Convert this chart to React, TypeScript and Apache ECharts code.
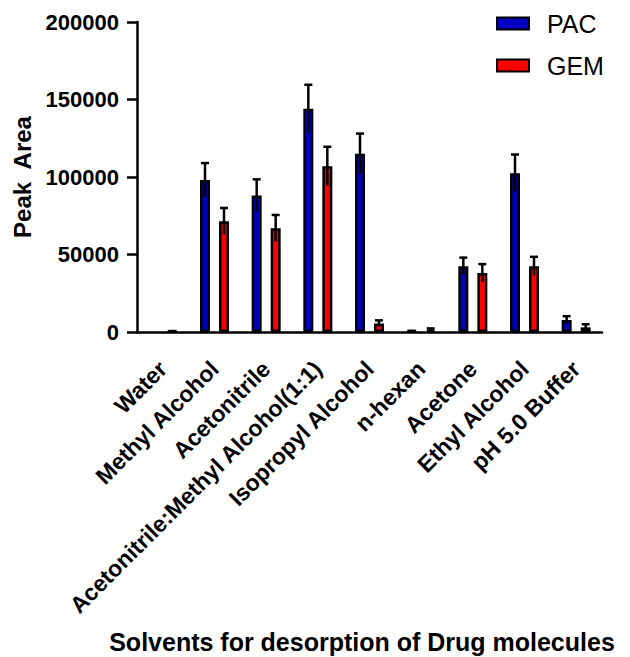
import React, { useEffect, useRef } from "react";
import * as echarts from "echarts";

const categories = [
  "Water",
  "Methyl Alcohol",
  "Acetonitrile",
  "Acetonitrile:Methyl Alcohol(1:1)",
  "Isopropyl Alcohol",
  "n-hexan",
  "Acetone",
  "Ethyl Alcohol",
  "pH 5.0 Buffer",
];
const pacValues = [null, 98000, 88000, 144000, 115000, 500, 42500, 102500, 7700];
const pacErrors = [0, 11000, 10500, 15500, 13000, 300, 5500, 12000, 2500];
const gemValues = [300, 71500, 67000, 107000, 5500, 1500, 38000, 42500, 3000];
const gemErrors = [300, 8500, 8500, 12500, 2000, 800, 5800, 6000, 2000];
const yTicks = [0, 50000, 100000, 150000, 200000];
const xTitle = "Solvents for desorption of Drug molecules";

const FONT = "'Liberation Sans', Arial, sans-serif";
const BLUE = "#0000C0";
const RED = "#FF0000";

function errorSeries(name: string, values: (number | null)[], errors: number[], offset: number) {
  return {
    type: "custom",
    name: name + "-err",
    z: 10,
    silent: true,
    data: values.map((v, i) => [i, v == null ? 0 : v, errors[i]]),
    encode: { x: 0, y: 1 },
    renderItem: (params: any, api: any) => {
      const idx = api.value(0);
      const v = api.value(1);
      const e = api.value(2);
      if (e <= 0) return null;
      const top = api.coord([idx, v + e]);
      const bot = api.coord([idx, Math.max(0, v - e)]);
      const x = top[0] + offset;
      return {
        type: "group",
        children: [
          {
            type: "line",
            shape: { x1: x, y1: bot[1], x2: x, y2: top[1] },
            style: { stroke: "#000", lineWidth: 2.5 },
          },
          {
            type: "line",
            shape: { x1: x - 4, y1: top[1], x2: x + 4, y2: top[1] },
            style: { stroke: "#000", lineWidth: 2.5 },
          },
        ],
      };
    },
  };
}

export default function App() {
  const ref = useRef<HTMLDivElement>(null);
  useEffect(() => {
    if (!ref.current) return;
    const chart = echarts.init(ref.current, null, { renderer: "svg" });
    chart.setOption({
      animation: false,
      backgroundColor: "#fff",
      textStyle: { fontFamily: FONT },
      legend: {
        data: ["PAC", "GEM"],
        orient: "vertical",
        left: 496,
        top: 11,
        padding: 0,
        itemWidth: 32,
        itemHeight: 12,
        itemGap: 17,
        icon: "rect",
        textStyle: { fontFamily: FONT, fontSize: 25, color: "#000", padding: [0, 0, 0, 13] },
      },
      graphic: [
        {
          type: "text",
          x: 362,
          y: 642,
          style: {
            text: xTitle,
            fontFamily: FONT,
            fontSize: 25,
            fontWeight: "bold",
            fill: "#000",
            align: "center",
            verticalAlign: "middle",
          },
        },
      ],
      grid: { left: 137, right: 28, top: 22, bottom: 325, containLabel: false },
      xAxis: {
        type: "category",
        data: categories,
        axisLine: { lineStyle: { color: "#000", width: 2.5 } },
        axisTick: { alignWithLabel: true, length: 12, lineStyle: { color: "#000", width: 2.5 } },
        axisLabel: {
          rotate: 45,
          interval: 0,
          margin: 33,
          fontFamily: FONT,
          fontSize: 23,
          fontWeight: "bold",
          color: "#000",
        },
      },
      yAxis: {
        type: "value",
        min: 0,
        max: 200000,
        interval: 50000,
        name: "Peak  Area",
        nameLocation: "middle",
        nameGap: 100,
        nameTextStyle: { fontFamily: FONT, fontSize: 24, fontWeight: "bold", color: "#000" },
        splitLine: { show: false },
        axisLine: { show: true, lineStyle: { color: "#000", width: 2.5 } },
        axisTick: { show: true, length: 10, lineStyle: { color: "#000", width: 2.5 } },
        axisLabel: {
          margin: 18,
          fontFamily: FONT,
          fontSize: 22,
          fontWeight: "bold",
          color: "#000",
          formatter: (v: number) => (yTicks.includes(v) ? String(v) : ""),
        },
      },
      series: [
        {
          type: "bar",
          name: "PAC",
          data: pacValues,
          barWidth: 10,
          barGap: "90%",
          itemStyle: { color: BLUE, borderColor: "#000", borderWidth: 2.5 },
        },
        {
          type: "bar",
          name: "GEM",
          data: gemValues,
          barWidth: 10,
          barGap: "90%",
          itemStyle: { color: RED, borderColor: "#000", borderWidth: 2.5 },
        },
        errorSeries("PAC", pacValues, pacErrors, -9.5),
        errorSeries("GEM", gemValues, gemErrors, 9.5),
      ],
    });
    return () => chart.dispose();
  }, []);
  return (
    <div
      ref={ref}
      style={{ position: "fixed", left: 0, top: 0, width: 630, height: 657 }}
    />
  );
}
